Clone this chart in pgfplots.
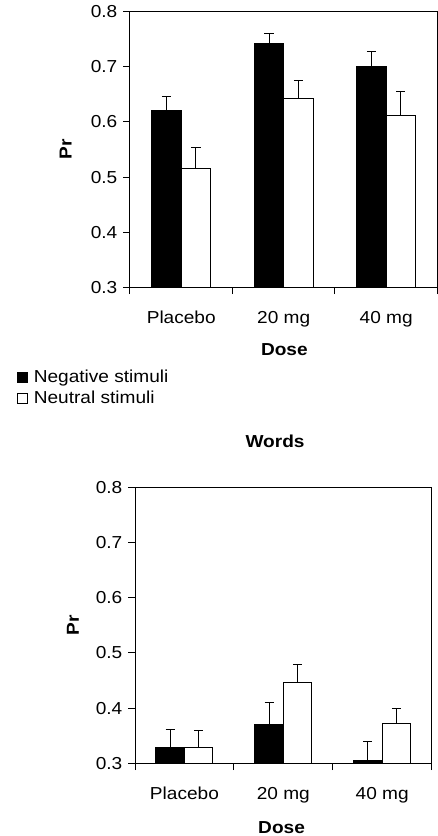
\documentclass[border=0pt]{standalone}
\usepackage{fontspec}
\setmainfont{Liberation Sans}[FakeStretch=1.1]
\usepackage{pgfplots}
\pgfplotsset{compat=1.18}
\usepackage{pgfplotstable}

\pgfplotstableread{
x neg negerr neu neuerr
0 0.620 0.027 0.515 0.038
1 0.743 0.018 0.643 0.033
2 0.700 0.027 0.611 0.045
}\topdata

\pgfplotstableread{
x neg negerr neu neuerr
0 0.329 0.033 0.329 0.030
1 0.371 0.039 0.446 0.033
2 0.305 0.034 0.372 0.028
}\worddata

\pgfplotsset{
  prstyle/.style={
    scale only axis,
    xmin=-0.5, xmax=2.5, ymin=0.3, ymax=0.8,
    ytick={0.3,0.4,0.5,0.6,0.7,0.8},
    yticklabel style={/pgf/number format/fixed, /pgf/number format/fixed zerofill,
      /pgf/number format/precision=1, /pgf/number format/assume math mode=true},
    axis line style={line width=0.75pt, black},
    tick style={line width=0.75pt, black},
    tick align=outside, tick pos=left,
    major tick length=5pt,
    xtick={-0.5,0.5,1.5,2.5}, xticklabels={,,,},
    extra x ticks={0,1,2},
    extra x tick labels={Placebo,20 mg,40 mg},
    extra x tick style={major tick length=0pt, xticklabel style={anchor=base, yshift=-27pt}},
    ybar=0pt,
    every axis y label/.style={at={(axis description cs:-0.209,0.5)}, rotate=90, anchor=center},
    xlabel={\bfseries Dose}, ylabel={\bfseries Pr},
  },
  negbar/.style={fill=black, draw=black, line width=0.75pt,
    legend image code/.code={\draw[fill=black, draw=black, line width=0.75pt] (0pt,-3.75pt) rectangle (7.5pt,3.75pt); \path (10.25pt,0pt);}},
  neubar/.style={fill=white, draw=black, line width=0.75pt,
    legend image code/.code={\draw[fill=white, draw=black, line width=0.6pt] (0pt,-3.75pt) rectangle (7.5pt,3.75pt); \path (10.25pt,0pt);}},
  errs/.style={error bars/.cd, y dir=plus, y explicit,
    error bar style={line width=0.75pt, black},
    error mark options={rotate=90, line width=0.75pt, mark size=3.4pt, black}},
}

\begin{document}
\fontsize{13}{15.5}\selectfont
\begin{tikzpicture}
\begin{axis}[prstyle,
  at={(97.5pt,-215.5pt)}, anchor=south west,
  width=230.6pt, height=206.7pt,
  bar width=22.1pt,
  every axis x label/.style={at={(axis description cs:0.502,-0.246)}, anchor=base},
  legend style={draw=none, fill=none, at={(axis description cs:-0.370,-0.290)},
    anchor=north west, inner sep=0pt, row sep=0pt},
  legend cell align=left,
]
\addplot[negbar, errs] table[x=x, y=neg, y error=negerr] {\topdata};
\addplot[neubar, errs] table[x=x, y=neu, y error=neuerr] {\topdata};
\legend{Negative stimuli, Neutral stimuli}
\end{axis}

\begin{axis}[prstyle,
  at={(101.25pt,-572.5pt)}, anchor=south west,
  width=222.5pt, height=207pt,
  bar width=21.4pt,
  every axis x label/.style={at={(axis description cs:0.494,-0.2525)}, anchor=base},
  title={\bfseries Words},
  title style={at={(axis description cs:0.472,1)}, anchor=base, yshift=23.7pt},
]
\addplot[negbar, errs] table[x=x, y=neg, y error=negerr] {\worddata};
\addplot[neubar, errs] table[x=x, y=neu, y error=neuerr] {\worddata};
\end{axis}
\pgfresetboundingbox
\path[use as bounding box] (0pt,0pt) rectangle (327.75pt,-627pt);
\end{tikzpicture}
\end{document}
